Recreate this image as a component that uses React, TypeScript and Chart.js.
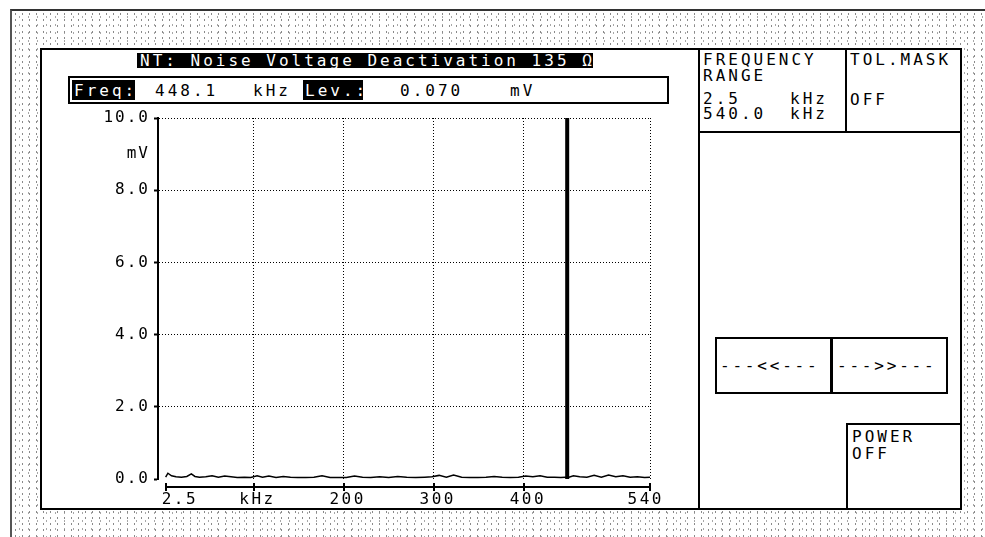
import React, { useEffect, useRef } from 'react';
import { Chart, registerables } from 'chart.js';
Chart.register(...registerables);

// ---- data ----
const FREQS = [2.5, 5, 9, 14, 20, 26, 31, 35, 40, 47, 54, 61, 68, 75, 82, 90, 97, 104, 110, 117, 125, 133, 141, 149, 158, 167, 176, 185, 194, 203, 212, 221, 230, 240, 250, 260, 270, 280, 290, 298, 306, 314, 322, 331, 340, 349, 358, 367, 376, 385, 394, 402, 410, 418, 426, 434, 441, 446, 450, 455, 462, 470, 478, 486, 494, 502, 510, 518, 526, 534, 540];
const LEVELS = [0.05, 0.16, 0.09, 0.06, 0.05, 0.07, 0.14, 0.07, 0.05, 0.06, 0.09, 0.05, 0.08, 0.06, 0.04, 0.05, 0.04, 0.09, 0.05, 0.08, 0.04, 0.07, 0.05, 0.04, 0.04, 0.05, 0.09, 0.04, 0.04, 0.04, 0.08, 0.05, 0.04, 0.06, 0.04, 0.07, 0.05, 0.04, 0.05, 0.06, 0.10, 0.05, 0.11, 0.05, 0.04, 0.04, 0.05, 0.07, 0.05, 0.04, 0.05, 0.08, 0.06, 0.09, 0.05, 0.05, 0.04, 0.05, 0.05, 0.09, 0.06, 0.05, 0.10, 0.05, 0.11, 0.06, 0.09, 0.05, 0.06, 0.04, 0.05];
const CURSOR_FREQ = 448.1;
const CURSOR_TOP = 10;
const X_MIN = -6;
const X_MAX = 540;
const X_GRID = [100, 200, 300, 400, 540];
const X_TICKS = [2.5, 100, 200, 300, 400, 540];
const X_LABELS = ['2.5', 'kHz', '200', '300', '400', '540'];
const Y_TICKS = [0, 2, 4, 6, 8, 9, 10];
const Y_LABELS = ['0.0', '2.0', '4.0', '6.0', '8.0', 'mV', '10.0'];

const FONT = '"DejaVu Sans Mono", monospace';

const bottomAxis = {
  id: 'bottomAxis',
  beforeDraw(c: any) {
    c.ctx.letterSpacing = '2px';
  },
  afterDraw(c: any) {
    const ctx = c.ctx;
    const xs = c.scales.x;
    const y0 = Math.round(c.chartArea.bottom + 8);
    ctx.save();
    ctx.setLineDash([]);
    ctx.strokeStyle = '#000';
    ctx.fillStyle = '#000';
    ctx.lineWidth = 2;
    const xa = xs.getPixelForValue(X_TICKS[0]);
    const xb = xs.getPixelForValue(X_TICKS[X_TICKS.length - 1]);
    ctx.beginPath();
    ctx.moveTo(xa, y0);
    ctx.lineTo(xb, y0);
    ctx.stroke();
    X_TICKS.forEach((v) => {
      const px = Math.round(xs.getPixelForValue(v));
      ctx.beginPath();
      ctx.moveTo(px, y0 - 4);
      ctx.lineTo(px, y0 + 4);
      ctx.stroke();
    });
    ctx.font = '16px ' + FONT;
    ctx.letterSpacing = '2.5px';
    ctx.textBaseline = 'middle';
    X_LABELS.forEach((lab, i) => {
      const px = xs.getPixelForValue(X_TICKS[i]);
      if (i === 0) {
        ctx.textAlign = 'left';
        ctx.fillText(lab, px - 4, y0 + 13);
      } else if (i === X_LABELS.length - 1) {
        ctx.textAlign = 'right';
        ctx.fillText(lab, px + 14, y0 + 13);
      } else {
        ctx.textAlign = 'center';
        ctx.fillText(lab, px + 4, y0 + 13);
      }
    });
    ctx.restore();
  },
};

function T(p: { x: number; y: number; children: any; size?: number; ls?: number; color?: string }) {
  return (
    <span
      style={{
        position: 'absolute',
        left: p.x,
        top: p.y - 1,
        fontSize: p.size || 16,
        lineHeight: '14px',
        letterSpacing: (p.ls ?? 3) + 'px',
        whiteSpace: 'pre',
        color: p.color || '#000',
      }}
    >
      {p.children}
    </span>
  );
}

function Box(p: { x: number; y: number; w: number; h: number; style?: any; children?: any }) {
  return (
    <div
      style={{
        position: 'absolute',
        left: p.x,
        top: p.y,
        width: p.w,
        height: p.h,
        boxSizing: 'border-box',
        ...p.style,
      }}
    >
      {p.children}
    </div>
  );
}

export default function App() {
  const ref = useRef<HTMLCanvasElement>(null);
  useEffect(() => {
    const chart = new Chart(ref.current!, {
      type: 'line',
      data: {
        datasets: [
          {
            data: [
              { x: CURSOR_FREQ, y: 0 },
              { x: CURSOR_FREQ, y: CURSOR_TOP },
            ],
            borderColor: '#000',
            borderWidth: 4,
            borderCapStyle: 'butt',
            pointRadius: 0,
          },
          {
            data: FREQS.map((f, i) => ({ x: f, y: LEVELS[i] })),
            borderColor: '#000',
            borderWidth: 1.5,
            pointRadius: 0,
            tension: 0,
          },
        ],
      },
      options: {
        animation: false,
        responsive: false,
        events: [],
        layout: { padding: { left: 0, top: 14, right: 48, bottom: 0 } },
        plugins: { legend: { display: false }, tooltip: { enabled: false } },
        scales: {
          x: {
            type: 'linear',
            min: X_MIN,
            max: X_MAX,
            afterBuildTicks: (s: any) => {
              s.ticks = X_GRID.map((v) => ({ value: v }));
            },
            afterFit: (s: any) => {
              s.height = 29;
            },
            ticks: { display: false },
            border: { display: false, dash: [1, 2] },
            grid: {
              color: '#000',
              lineWidth: 1,
              drawTicks: false,
            },
          },
          y: {
            type: 'linear',
            min: 0,
            max: 10,
            afterBuildTicks: (s: any) => {
              s.ticks = Y_TICKS.map((v) => ({ value: v }));
            },
            afterFit: (s: any) => {
              s.width = 118;
            },
            ticks: {
              autoSkip: false,
              color: '#000',
              padding: 4,
              font: { family: FONT, size: 16 },
              callback: (_v: any, i: number) => Y_LABELS[i],
            },
            border: { display: true, color: '#000', width: 2, dash: [1, 2] },
            grid: {
              color: (ctx: any) => (ctx.tick && (ctx.tick.value === 9 || ctx.tick.value === 0) ? 'rgba(0,0,0,0)' : '#000'),
              tickColor: (ctx: any) => (ctx.tick && ctx.tick.value === 9 ? 'rgba(0,0,0,0)' : '#000'),
              lineWidth: 1,
              tickBorderDash: [],
              tickWidth: 2,
              tickLength: 4,
            },
          },
        },
      },
      plugins: [bottomAxis],
    } as any);
    return () => chart.destroy();
  }, []);

  const stipple =
    'radial-gradient(circle, #8a8a8a 0.55px, transparent 0.9px) 0 0 / 7px 6px, radial-gradient(circle, #a8a8a8 0.55px, transparent 0.9px) 3px 2px / 9px 8px, #fff';

  return (
    <div
      style={{
        position: 'fixed',
        left: 0,
        top: 0,
        width: 985,
        height: 537,
        background: '#fff',
        overflow: 'hidden',
        fontFamily: FONT,
      }}
    >
      <Box x={10} y={9} w={980} h={540} style={{ background: stipple, borderTop: '2px solid #333', borderLeft: '2px solid #555' }} />
      <Box x={40} y={48} w={922} h={462} style={{ background: '#fff', border: '2px solid #000' }} />

      {/* title bar */}
      <Box x={137} y={53} w={456} h={15} style={{ background: '#000' }} />
      <T x={140} y={55} color="#fff" ls={3}>NT: Noise Voltage Deactivation 135 Ω</T>

      {/* freq / level box */}
      <Box x={68} y={76} w={601} h={28} style={{ border: '2px solid #000' }} />
      <Box x={72} y={80} w={63} h={20} style={{ background: '#000' }} />
      <T x={74} y={85} color="#fff">Freq:</T>
      <T x={155} y={85}>448.1</T>
      <T x={253} y={85}>kHz</T>
      <Box x={303} y={80} w={60} h={20} style={{ background: '#000' }} />
      <T x={305} y={85} color="#fff">Lev.:</T>
      <T x={400} y={85}>0.070</T>
      <T x={510} y={85}>mV</T>

      {/* right panel */}
      <Box x={698} y={48} w={2} h={461} style={{ background: '#000' }} />
      <Box x={699} y={131} w={262} h={2} style={{ background: '#000' }} />
      <Box x={845} y={48} w={2} h={84} style={{ background: '#000' }} />
      <T x={703} y={54}>FREQUENCY</T>
      <T x={703} y={70}>RANGE</T>
      <T x={703} y={93}>2.5</T>
      <T x={790} y={93}>kHz</T>
      <T x={703} y={108}>540.0</T>
      <T x={790} y={108}>kHz</T>
      <T x={850} y={54}>TOL.MASK</T>
      <T x={850} y={94}>OFF</T>

      {/* arrow boxes */}
      <Box x={715} y={337} w={233} h={57} style={{ border: '2px solid #000' }} />
      <Box x={830} y={337} w={3} h={57} style={{ background: '#000' }} />
      <T x={720} y={360} ls={2.8}>---&lt;&lt;---</T>
      <T x={837} y={360} ls={2.8}>---&gt;&gt;---</T>

      {/* power box */}
      <Box x={846} y={423} w={116} h={87} style={{ borderTop: '2px solid #000', borderLeft: '2px solid #000' }} />
      <T x={852} y={431}>POWER</T>
      <T x={852} y={448}>OFF</T>

      <canvas
        ref={ref}
        width={658}
        height={404}
        style={{ position: 'absolute', left: 40, top: 104, width: 658, height: 404 }}
      />
    </div>
  );
}
